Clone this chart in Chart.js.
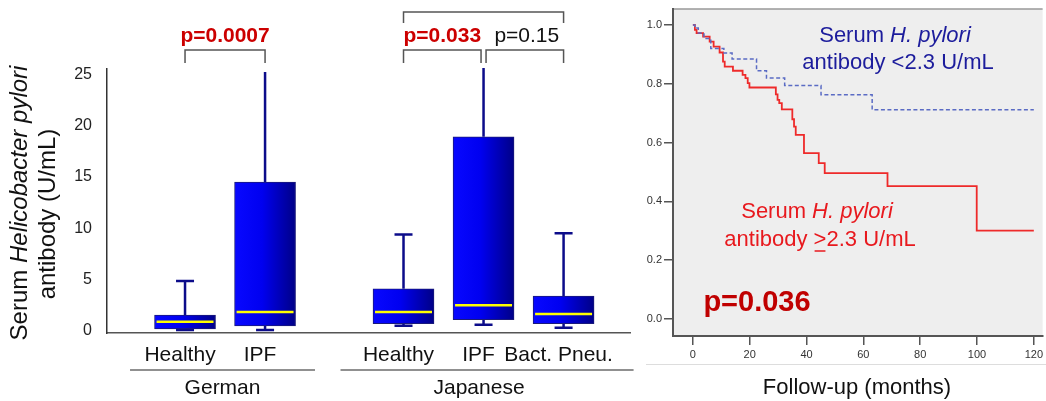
<!DOCTYPE html>
<html lang="en">
<head>
<meta charset="UTF-8">
<title>Serum H. pylori antibody</title>
<script src="https://cdn.jsdelivr.net/npm/chart.js"></script>
<style>
  html, body { margin: 0; padding: 0; background: #fff; }
  #wrap { position: relative; width: 1046px; height: 401px; overflow: hidden; }
  #boxChart { position: absolute; left: 0; top: 0; }
  #kmChart { position: absolute; left: 640px; top: 0; }
</style>
</head>
<body>
<div id="wrap">
  <canvas id="boxChart" width="640" height="401"></canvas>
  <canvas id="kmChart" width="406" height="401"></canvas>
</div>
<script>
// ---- box plot data (left panel) ----
const groups = ['German', 'Japanese'];
const groupCategories = [['Healthy', 'IPF'], ['Healthy', 'IPF', 'Bact. Pneu.']];
const boxMin    = [0.1, 0.1, 0.5, 0.6, 0.3];
const boxQ1     = [0.2, 0.5, 0.7, 1.1, 0.7];
const boxMedian = [0.9, 1.85, 1.85, 2.5, 1.65];
const boxQ3     = [1.55, 14.5, 4.1, 18.9, 3.4];
const boxMax    = [4.85, 25.2, 9.4, 25.6, 9.5];
const boxTicks  = [0, 5, 10, 15, 20, 25];
// comparisons: [from index, to index, label, significant, level]
const comparisons = [
  [0, 1, 'p=0.0007', true, 0],
  [2, 3, 'p=0.033', true, 0],
  [3, 4, 'p=0.15', false, 0],
  [2, 4, '', false, 1]
];

// ---- Kaplan-Meier data (right panel) ----
const kmTicksX = [0, 20, 40, 60, 80, 100, 120];
const kmTicksY = [0, 0.2, 0.4, 0.6, 0.8, 1.0];
const highTime = [0, 0.7, 1.3, 3.6, 5.9, 7.3, 9.4, 10.6, 11.2, 14.1, 17.5, 18.5, 19.3, 19.9,
                  29.2, 29.8, 30.4, 31.3, 35.0, 35.6, 36.2, 39.1, 44.3, 46.4, 68.5, 99.9, 120];
const highSurv = [1.0, 0.983, 0.972, 0.960, 0.943, 0.926, 0.906, 0.875, 0.858, 0.844, 0.830, 0.819, 0.802, 0.787,
                  0.764, 0.745, 0.734, 0.713, 0.679, 0.654, 0.626, 0.564, 0.530, 0.496, 0.452, 0.300, 0.300];
const lowTime = [0, 0.7, 1.9, 3.9, 6.3, 10.9, 13.8, 22.4, 25.9, 32.3, 45.1, 63.1, 120];
const lowSurv = [1.0, 0.989, 0.972, 0.954, 0.920, 0.904, 0.884, 0.844, 0.819, 0.794, 0.762, 0.711, 0.711];

const FONT = "'Liberation Sans', Arial, sans-serif";
Chart.defaults.font.family = FONT;
Chart.defaults.animation = false;

// x positions of the boxes, with a wider gap between groups
const positions = [];
const catLabels = [];
let start = 0;
groupCategories.forEach(cats => {
  cats.forEach((c, i) => { positions.push(start + i); catLabels.push(c); });
  start += cats.length + 0.73;
});

// draw a line of text made of plain / italic / underlined parts, centred on (cx, cy)
function drawRich(ctx, parts, cx, cy, size, color, rotate, bold) {
  ctx.save();
  ctx.translate(cx, cy);
  if (rotate) ctx.rotate(-Math.PI / 2);
  const fontOf = p => (p[1] ? 'italic ' : '') + (bold ? 'bold ' : '') + size + 'px ' + FONT;
  const widths = parts.map(p => { ctx.font = fontOf(p); return ctx.measureText(p[0]).width; });
  let x = -widths.reduce((a, b) => a + b, 0) / 2;
  ctx.textAlign = 'left';
  ctx.textBaseline = 'middle';
  ctx.fillStyle = color;
  ctx.strokeStyle = color;
  parts.forEach((p, i) => {
    ctx.font = fontOf(p);
    ctx.fillText(p[0], x, 0);
    if (p[2]) {
      ctx.lineWidth = 1.5;
      ctx.beginPath();
      ctx.moveTo(x + 1, size * 0.5);
      ctx.lineTo(x + widths[i] - 1, size * 0.5);
      ctx.stroke();
    }
    x += widths[i];
  });
  ctx.restore();
}

const boxDecor = {
  id: 'boxDecor',
  beforeDatasetsDraw(chart) {
    const {ctx, scales: {x, y}} = chart;
    const topTick = boxTicks[boxTicks.length - 1];
    ctx.save();
    ctx.strokeStyle = '#0c0c8a';
    ctx.lineWidth = 2.5;
    positions.forEach((p, i) => {
      const px = x.getPixelForValue(p);
      ctx.beginPath();
      ctx.moveTo(px, y.getPixelForValue(boxQ3[i]));
      ctx.lineTo(px, y.getPixelForValue(boxMax[i]));
      ctx.moveTo(px, y.getPixelForValue(boxQ1[i]));
      ctx.lineTo(px, y.getPixelForValue(boxMin[i]));
      // whiskers running past the last tick are cut off, no cap
      if (boxMax[i] <= topTick) {
        ctx.moveTo(px - 9, y.getPixelForValue(boxMax[i]));
        ctx.lineTo(px + 9, y.getPixelForValue(boxMax[i]));
      }
      ctx.moveTo(px - 9, y.getPixelForValue(boxMin[i]));
      ctx.lineTo(px + 9, y.getPixelForValue(boxMin[i]));
      ctx.stroke();
    });
    ctx.restore();
  },
  afterDatasetsDraw(chart) {
    const {ctx, scales: {x, y}} = chart;
    ctx.save();
    ctx.strokeStyle = '#ffff00';
    ctx.lineWidth = 2.5;
    positions.forEach((p, i) => {
      const px = x.getPixelForValue(p);
      const py = y.getPixelForValue(boxMedian[i]);
      ctx.beginPath();
      ctx.moveTo(px - 28.5, py);
      ctx.lineTo(px + 28.5, py);
      ctx.stroke();
    });
    ctx.restore();
  },
  afterDraw(chart) {
    const {ctx, scales: {x}} = chart;
    ctx.save();
    // category labels and group lines
    ctx.fillStyle = '#111';
    ctx.textAlign = 'center';
    ctx.textBaseline = 'middle';
    ctx.font = '21px ' + FONT;
    positions.forEach((p, i) => ctx.fillText(catLabels[i], x.getPixelForValue(p) - 5, 355));
    let k = 0;
    groups.forEach((g, gi) => {
      const n = groupCategories[gi].length;
      const x1 = x.getPixelForValue(positions[k]) - 55 - gi * 8;
      const x2 = x.getPixelForValue(positions[k + n - 1]) + 50 + gi * 20;
      ctx.strokeStyle = '#222';
      ctx.lineWidth = 1.2;
      ctx.beginPath();
      ctx.moveTo(x1, 370);
      ctx.lineTo(x2, 370);
      ctx.stroke();
      ctx.fillText(g, (x1 + x2) / 2 - gi * 8, 388);
      k += n;
    });
    // significance brackets
    const levelY = [[50, 63], [12, 23]];
    comparisons.forEach(c => {
      const [a, b, label, sig, level] = c;
      const shared = idx => comparisons.some(o => o !== c && o[4] === level && (o[0] === idx || o[1] === idx));
      const x1 = x.getPixelForValue(positions[a]) + (shared(a) ? 2.5 : 0);
      const x2 = x.getPixelForValue(positions[b]) - (shared(b) ? 2.5 : 0);
      const [top, foot] = levelY[level];
      ctx.strokeStyle = '#555';
      ctx.lineWidth = 1.5;
      ctx.beginPath();
      ctx.moveTo(x1, foot);
      ctx.lineTo(x1, top);
      ctx.lineTo(x2, top);
      ctx.lineTo(x2, foot);
      ctx.stroke();
      if (label) {
        ctx.font = (sig ? 'bold ' : '') + '21px ' + FONT;
        ctx.fillStyle = sig ? '#cc0000' : '#111';
        ctx.fillText(label, (x1 + x2) / 2 + (sig ? 0 : 2), top - 14);
      }
    });
    ctx.restore();
    // y axis title
    drawRich(ctx, [['Serum ', false], ['Helicobacter pylori', true]], 20, 203, 24, '#111', true);
    drawRich(ctx, [['antibody (U/mL)', false]], 48, 214, 24, '#111', true);
  }
};

new Chart(document.getElementById('boxChart'), {
  type: 'bar',
  data: {
    datasets: [{
      data: positions.map((p, i) => ({x: p, y: [boxQ1[i], boxQ3[i]]})),
      barThickness: 61,
      borderWidth: 1,
      borderColor: '#1a1a7a',
      borderSkipped: false,
      backgroundColor(context) {
        const chart = context.chart;
        if (!chart.chartArea || !context.raw) return '#0000dd';
        const px = chart.scales.x.getPixelForValue(context.raw.x);
        const g = chart.ctx.createLinearGradient(px - 30, 0, px + 30, 0);
        g.addColorStop(0, '#0808ff');
        g.addColorStop(0.45, '#0000f0');
        g.addColorStop(1, '#000088');
        return g;
      }
    }]
  },
  options: {
    responsive: false,
    layout: {padding: {top: 69, right: 10, left: 0, bottom: 0}},
    plugins: {legend: {display: false}, tooltip: {enabled: false}},
    scales: {
      x: {
        type: 'linear',
        min: -0.975,
        max: 5.56,
        offset: false,
        grid: {display: false, drawTicks: false},
        border: {display: true, color: '#555', width: 1.5},
        ticks: {display: false},
        afterFit(scale) { scale.height = 68; }
      },
      y: {
        min: -0.2,
        max: 25.5,
        grid: {display: false, drawTicks: false},
        border: {display: true, color: '#333', width: 1.5},
        afterBuildTicks(scale) { scale.ticks = boxTicks.map(v => ({value: v})); },
        ticks: {font: {size: 16}, color: '#222', padding: 15},
        afterFit(scale) { scale.width = 107; }
      }
    }
  },
  plugins: [boxDecor]
});

const kmDecor = {
  id: 'kmDecor',
  beforeDraw(chart) {
    const {ctx, chartArea: a} = chart;
    ctx.save();
    ctx.fillStyle = '#eeeeee';
    ctx.fillRect(a.left, a.top, a.right - a.left, a.bottom - a.top);
    ctx.strokeStyle = '#999';
    ctx.lineWidth = 1.5;
    ctx.beginPath();
    ctx.moveTo(a.left, a.top);
    ctx.lineTo(a.right, a.top);
    ctx.stroke();
    ctx.strokeStyle = '#dddddd';
    ctx.lineWidth = 1;
    ctx.beginPath();
    ctx.moveTo(6, 364.5);
    ctx.lineTo(406, 364.5);
    ctx.stroke();
    ctx.restore();
  },
  afterDraw(chart) {
    const {ctx} = chart;
    drawRich(ctx, [['Serum ', false], ['H. pylori', true]], 255, 36, 22, '#1c1c9c');
    drawRich(ctx, [['antibody <2.3 U/mL', false]], 258, 63, 22, '#1c1c9c');
    drawRich(ctx, [['Serum ', false], ['H. pylori', true]], 177, 212, 22, '#e8191e');
    drawRich(ctx, [['antibody ', false], ['>', false, true], ['2.3 U/mL', false]], 180, 240, 22, '#e8191e');
    drawRich(ctx, [['p=0.036', false]], 117, 303, 29, '#c00000', false, true);
    drawRich(ctx, [['Follow-up (months)', false]], 217, 388, 22, '#111');
  }
};

new Chart(document.getElementById('kmChart'), {
  type: 'line',
  data: {
    datasets: [
      {
        data: lowTime.map((t, i) => ({x: t, y: lowSurv[i]})),
        stepped: 'before',
        borderColor: '#5a6bc4',
        borderWidth: 1.5,
        borderDash: [4, 2.5],
        pointRadius: 0,
        fill: false
      },
      {
        data: highTime.map((t, i) => ({x: t, y: highSurv[i]})),
        stepped: 'before',
        borderColor: '#ee2a2a',
        borderWidth: 1.8,
        pointRadius: 0,
        fill: false
      }
    ]
  },
  options: {
    responsive: false,
    layout: {padding: {top: 9, right: 0, left: 0, bottom: 0}},
    plugins: {legend: {display: false}, tooltip: {enabled: false}},
    scales: {
      x: {
        type: 'linear',
        min: -7,
        max: 123.1,
        grid: {display: true, drawOnChartArea: false, drawTicks: true, tickLength: 9, color: '#555', lineWidth: 1.5},
        border: {display: true, color: '#555', width: 2},
        afterBuildTicks(scale) { scale.ticks = kmTicksX.map(v => ({value: v})); },
        ticks: {font: {size: 11}, color: '#333', padding: 3, maxRotation: 0, autoSkip: false},
        afterFit(scale) { scale.height = 65; }
      },
      y: {
        type: 'linear',
        min: -0.058,
        max: 1.054,
        grid: {display: true, drawOnChartArea: false, drawTicks: true, tickLength: 9, color: '#555', lineWidth: 1.5},
        border: {display: true, color: '#555', width: 2},
        afterBuildTicks(scale) { scale.ticks = kmTicksY.map(v => ({value: v})); },
        ticks: {font: {size: 11}, color: '#333', padding: 2, callback: v => v.toFixed(1)},
        afterFit(scale) { scale.width = 33; }
      }
    }
  },
  plugins: [kmDecor]
});
</script>
</body>
</html>
